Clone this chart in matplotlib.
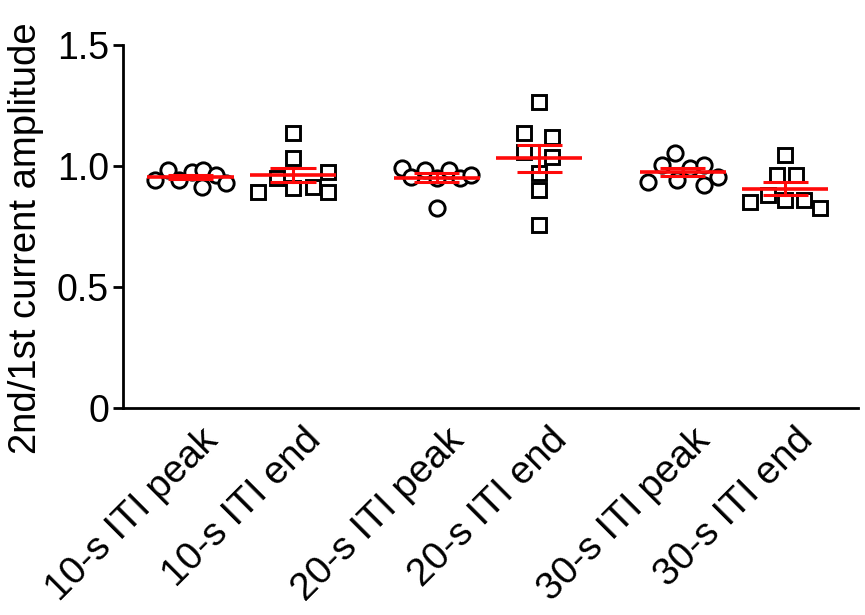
import numpy as np
import matplotlib
matplotlib.use("Agg")
import matplotlib.pyplot as plt

plt.rcParams['font.family'] = ['Liberation Sans', 'DejaVu Sans']

categories = ["10-s ITI peak", "10-s ITI end", "20-s ITI peak",
              "20-s ITI end", "30-s ITI peak", "30-s ITI end"]
positions = [0, 1, 2.4, 3.4, 4.8, 5.8]
markers = ["o", "s", "o", "s", "o", "s"]

values = [
    [0.942, 0.983, 0.942, 0.975, 0.983, 0.913, 0.963, 0.930],
    [0.893, 0.950, 1.136, 1.033, 0.909, 0.913, 0.975, 0.893],
    [0.992, 0.955, 0.983, 0.950, 0.983, 0.950, 0.963, 0.826],
    [1.264, 1.136, 1.120, 1.058, 1.037, 0.971, 0.901, 0.756],
    [0.934, 1.004, 1.054, 0.942, 0.992, 1.004, 0.921, 0.955],
    [0.851, 0.880, 0.963, 1.045, 0.963, 0.860, 0.860, 0.826],
]
# horizontal scatter offsets of the points (category units)
offsets = [
    [-0.35, -0.22, -0.11, 0.01, 0.12, 0.11, 0.25, 0.35],
    [-0.34, -0.16, 0.0, 0.0, 0.0, 0.19, 0.34, 0.34],
    [-0.34, -0.25, -0.11, 0.0, 0.12, 0.23, 0.34, 0.0],
    [0.0, -0.15, 0.13, -0.15, 0.13, 0.0, 0.0, 0.0],
    [-0.34, -0.20, -0.08, -0.06, 0.07, 0.21, 0.21, 0.34],
    [-0.34, -0.17, -0.08, 0.0, 0.10, 0.0, 0.18, 0.34],
]

yticks = [0, 0.5, 1.0, 1.5]
yticklabels = ["0", "0.5", "1.0", "1.5"]

fig = plt.figure(figsize=(8.65, 6.15), dpi=100)
ax = fig.add_axes([0.142, 0.337, 0.850, 0.590])

red = "#ff0a0a"
for pos, m, vals, offs in zip(positions, markers, values, offsets):
    vals = np.array(vals)
    xs = pos + np.array(offs)
    ax.plot(xs, vals, linestyle="none", marker=m, markersize=11 if m == "o" else 10.5,
            markerfacecolor="white", markeredgecolor="black", markeredgewidth=2.1,
            zorder=3)
    mean = vals.mean()
    sem = vals.std(ddof=1) / np.sqrt(len(vals))
    ax.plot([pos - 0.42, pos + 0.42], [mean, mean], color=red, lw=2.6, zorder=4,
            solid_capstyle="butt")
    ax.plot([pos - 0.22, pos + 0.22], [mean + sem, mean + sem], color=red, lw=2.2, zorder=4,
            solid_capstyle="butt")
    ax.plot([pos - 0.22, pos + 0.22], [mean - sem, mean - sem], color=red, lw=2.2, zorder=4,
            solid_capstyle="butt")
    ax.plot([pos, pos], [mean - sem, mean + sem], color=red, lw=2.2, zorder=4)

ax.set_xlim(-0.66, 6.51)
ax.set_ylim(0, 1.5)
ax.set_yticks(yticks)
ax.set_yticklabels(yticklabels, fontsize=27)
ax.set_xticks(positions)
ax.set_xticklabels([""] * len(categories))
for pos, cat in zip(positions, categories):
    ax.annotate(cat, xy=(pos, 0), xycoords="data", xytext=(21, -24.5),
                textcoords="offset points", fontsize=28, rotation=45,
                ha="right", va="baseline", rotation_mode="anchor",
                annotation_clip=False)

ax.tick_params(axis="x", length=0)
ax.tick_params(axis="y", length=7, width=2, pad=3, direction="out")
for s in ["top", "right"]:
    ax.spines[s].set_visible(False)
for s in ["left", "bottom"]:
    ax.spines[s].set_linewidth(2)
ax.set_ylabel("2nd/1st current amplitude", fontsize=27.5)
ax.yaxis.set_label_coords(-0.107, 0.466)

fig.savefig("out.png", dpi=100)
